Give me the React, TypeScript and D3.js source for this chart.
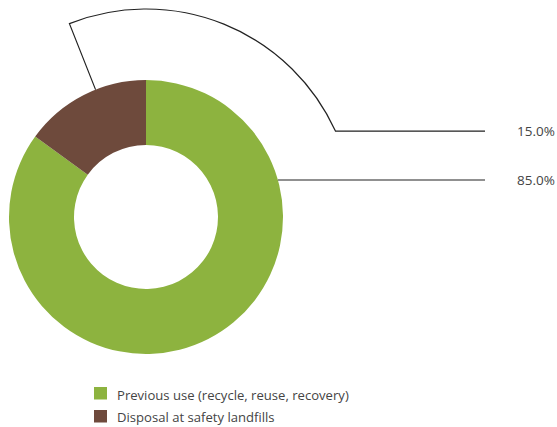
import React from "react";
import * as d3 from "d3";

const categories = ["Previous use (recycle, reuse, recovery)", "Disposal at safety landfills"];
const values = [85.0, 15.0];
const colors = ["#8DB33F", "#6E4A3C"];
const labels = ["85.0%", "15.0%"];

const W = 557, H = 427;
const cx = 146, cy = 217, R = 137, r0 = 72;

export default function App() {
  const pie = d3.pie<number>().sort(null).startAngle(0).endAngle(2 * Math.PI);
  const arcs = pie(values);
  const arcGen = d3.arc<d3.PieArcDatum<number>>().innerRadius(r0).outerRadius(R);

  const yGreen = 180;
  const xGreenStart = cx + Math.sqrt(R * R - (cy - yGreen) * (cy - yGreen));
  const lineEnd = 485;

  const bArc = arcs[1];
  const th = bArc.startAngle + (bArc.endAngle - bArc.startAngle) * 0.6 - 2 * Math.PI;
  const Rl = 208;
  const thEnd = 1.145;
  const p = d3.path();
  p.moveTo(cx + R * Math.sin(th), cy - R * Math.cos(th));
  p.lineTo(cx + Rl * Math.sin(th), cy - Rl * Math.cos(th));
  p.arc(cx, cy, Rl, th - Math.PI / 2, thEnd - Math.PI / 2, false);
  const yBrown = cy - Rl * Math.cos(thEnd);
  p.lineTo(lineEnd, yBrown);

  const font = "'Open Sans', sans-serif";
  return (
    <svg width={W} height={H} style={{ position: "absolute", left: 0, top: 0 }}>
      <rect width={W} height={H} fill="#fff" />
      {arcs.map((a, i) => (
        <path key={i} d={arcGen(a) || ""} transform={`translate(${cx},${cy})`} fill={colors[i]} />
      ))}
      <line x1={xGreenStart} y1={yGreen} x2={lineEnd} y2={yGreen} stroke="#222" strokeWidth={1.2} />
      <path d={p.toString()} fill="none" stroke="#222" strokeWidth={1.2} />
      <text x={517} y={yGreen} dy="0.35em" fontFamily={font} fontSize={13.5} fill="#444">{labels[0]}</text>
      <text x={517} y={yBrown} dy="0.35em" fontFamily={font} fontSize={13.5} fill="#444">{labels[1]}</text>
      {categories.map((c, i) => (
        <g key={c}>
          <rect x={94} y={387 + i * 23} width={13} height={12.5} fill={colors[i]} />
          <text x={117} y={399.5 + i * 22} fontFamily={font} fontSize={13.1} fill="#444">{c}</text>
        </g>
      ))}
    </svg>
  );
}
